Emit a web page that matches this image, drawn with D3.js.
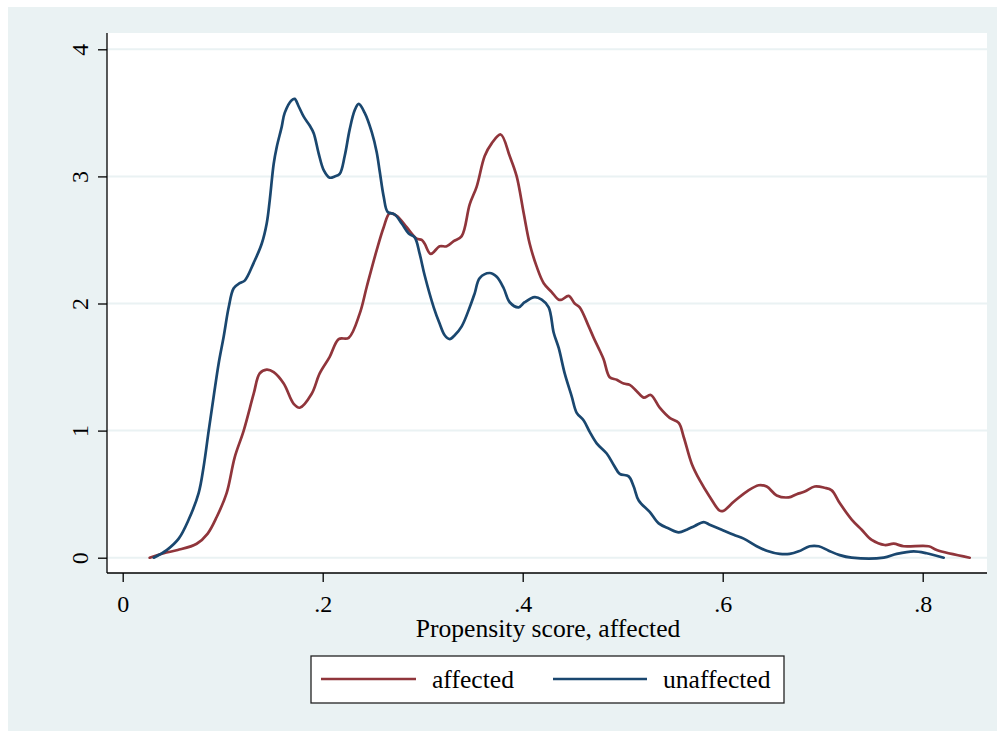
<!DOCTYPE html>
<html>
<head>
<meta charset="utf-8">
<script src="https://cdn.jsdelivr.net/npm/d3@7"></script>
<style>
  html, body { margin: 0; padding: 0; background: #ffffff; }
  svg { display: block; }
  text { font-family: "Liberation Serif", "Times New Roman", serif; fill: #000; }
</style>
</head>
<body>
<svg id="chart" width="997" height="731"></svg>
<script>
// Kernel density estimates of the propensity score, by group
const affectedX = [0.027,0.041,0.055,0.074,0.085,0.094,0.104,0.112,0.121,0.131,0.137,0.144,0.151,0.161,0.171,0.177,0.189,0.197,0.207,0.216,0.226,0.237,0.244,0.254,0.261,0.267,0.274,0.284,0.294,0.299,0.302,0.308,0.317,0.324,0.331,0.339,0.347,0.354,0.362,0.369,0.378,0.387,0.394,0.401,0.407,0.414,0.421,0.429,0.436,0.439,0.446,0.452,0.457,0.466,0.471,0.477,0.481,0.487,0.494,0.501,0.507,0.514,0.521,0.528,0.537,0.547,0.556,0.561,0.569,0.577,0.587,0.597,0.601,0.611,0.624,0.636,0.644,0.654,0.666,0.674,0.682,0.692,0.702,0.709,0.717,0.729,0.739,0.749,0.762,0.771,0.781,0.806,0.814,0.847];
const affectedY = [0.00,0.035,0.06,0.11,0.19,0.32,0.51,0.79,1.00,1.29,1.45,1.48,1.46,1.37,1.21,1.18,1.29,1.45,1.58,1.72,1.73,1.92,2.13,2.42,2.60,2.71,2.69,2.60,2.51,2.50,2.47,2.39,2.45,2.45,2.49,2.53,2.78,2.92,3.16,3.26,3.33,3.16,3.00,2.71,2.47,2.29,2.16,2.09,2.03,2.03,2.06,2.00,1.97,1.82,1.73,1.63,1.56,1.42,1.40,1.37,1.36,1.31,1.26,1.28,1.18,1.10,1.06,0.95,0.74,0.61,0.48,0.37,0.37,0.44,0.52,0.57,0.56,0.49,0.475,0.50,0.52,0.56,0.55,0.53,0.43,0.30,0.22,0.14,0.10,0.11,0.09,0.09,0.06,0.00];

const unaffectedX = [0.031,0.044,0.056,0.066,0.076,0.081,0.086,0.091,0.096,0.101,0.106,0.111,0.117,0.122,0.131,0.139,0.144,0.147,0.151,0.154,0.159,0.162,0.169,0.172,0.176,0.181,0.187,0.191,0.196,0.201,0.207,0.212,0.217,0.222,0.227,0.232,0.236,0.242,0.249,0.254,0.257,0.261,0.265,0.272,0.279,0.286,0.292,0.297,0.302,0.311,0.317,0.322,0.327,0.332,0.339,0.347,0.352,0.357,0.367,0.374,0.381,0.387,0.396,0.402,0.412,0.419,0.426,0.431,0.436,0.442,0.449,0.454,0.461,0.467,0.474,0.484,0.491,0.497,0.506,0.511,0.516,0.527,0.536,0.546,0.556,0.564,0.572,0.581,0.587,0.599,0.611,0.621,0.634,0.644,0.657,0.667,0.676,0.687,0.696,0.706,0.717,0.729,0.761,0.774,0.791,0.804,0.821];
const unaffectedY = [0.00,0.06,0.15,0.30,0.51,0.72,1.00,1.27,1.53,1.74,1.97,2.12,2.16,2.18,2.32,2.47,2.63,2.81,3.10,3.23,3.39,3.50,3.60,3.61,3.55,3.47,3.40,3.34,3.18,3.05,2.99,3.00,3.02,3.16,3.37,3.52,3.57,3.50,3.35,3.19,3.04,2.84,2.72,2.70,2.63,2.55,2.52,2.39,2.22,1.97,1.84,1.75,1.72,1.75,1.82,1.97,2.08,2.20,2.24,2.21,2.12,2.01,1.97,2.01,2.05,2.03,1.97,1.77,1.65,1.45,1.27,1.14,1.08,0.99,0.90,0.82,0.73,0.66,0.64,0.56,0.45,0.36,0.27,0.23,0.20,0.22,0.25,0.28,0.26,0.22,0.18,0.15,0.09,0.055,0.03,0.03,0.05,0.09,0.09,0.055,0.02,0.00,0.00,0.03,0.05,0.035,0.00];

const xTicks = [0, 0.2, 0.4, 0.6, 0.8];
const yTicks = [0, 1, 2, 3, 4];
const seriesNames = ["affected", "unaffected"];
const seriesColors = ["#90353b", "#1a476f"];
const xTitle = "Propensity score, affected";

const svg = d3.select("#chart");
const W = 997, H = 731;

// graph region background
svg.append("rect").attr("x", 8).attr("y", 7).attr("width", W - 8).attr("height", H - 7)
  .attr("fill", "#eaf2f3");

// plot region
const plot = { left: 107, right: 987, top: 33, bottom: 573 };
svg.append("rect")
  .attr("x", plot.left).attr("y", plot.top)
  .attr("width", plot.right - plot.left).attr("height", plot.bottom - plot.top)
  .attr("fill", "#ffffff");

const x = d3.scaleLinear().domain([0, 0.8]).range([122.7, 922.7]);
const y = d3.scaleLinear().domain([0, 4]).range([557.7, 49.3]);

// horizontal grid lines
svg.append("g").selectAll("line").data(yTicks).join("line")
  .attr("x1", plot.left).attr("x2", plot.right)
  .attr("y1", d => y(d)).attr("y2", d => y(d))
  .attr("stroke", "#eaf2f3").attr("stroke-width", 2);

// density curves
const line = d3.line().x(d => x(d[0])).y(d => y(d[1])).curve(d3.curveCatmullRom.alpha(0.5));
const series = [
  d3.zip(affectedX, affectedY),
  d3.zip(unaffectedX, unaffectedY)
];
svg.append("g").selectAll("path").data(series).join("path")
  .attr("d", line)
  .attr("fill", "none")
  .attr("stroke", (d, i) => seriesColors[i])
  .attr("stroke-width", 2.7)
  .attr("stroke-linejoin", "round")
  .attr("stroke-linecap", "round");

const fmtX = d => d === 0 ? "0" : d3.format(".1f")(d).replace(/^0/, "");

// x axis
const xAxis = svg.append("g").attr("transform", `translate(0,${plot.bottom})`)
  .call(d3.axisBottom(x).tickValues(xTicks).tickFormat(fmtX).tickSize(9).tickPadding(6).tickSizeOuter(0));
xAxis.select(".domain").attr("d", `M${plot.left},0H${plot.right}`).attr("stroke", "#000").attr("stroke-width", 1.3);
xAxis.selectAll(".tick line").attr("stroke", "#000").attr("stroke-width", 1.3);
xAxis.selectAll(".tick text")
  .attr("font-family", "Liberation Serif").attr("font-size", 24).attr("fill", "#000")
  .attr("dy", null).attr("y", 39);

// y axis
const yAxis = svg.append("g").attr("transform", `translate(${plot.left},0)`)
  .call(d3.axisLeft(y).tickValues(yTicks).tickFormat(d3.format("d")).tickSize(9).tickSizeOuter(0));
yAxis.select(".domain").attr("d", `M0,${plot.top}V${plot.bottom}`).attr("stroke", "#000").attr("stroke-width", 1.3);
yAxis.selectAll(".tick line").attr("stroke", "#000").attr("stroke-width", 1.3);
yAxis.selectAll(".tick text")
  .attr("font-family", "Liberation Serif").attr("font-size", 24).attr("fill", "#000")
  .attr("x", null).attr("dy", null).attr("text-anchor", "middle")
  .attr("transform", "translate(-19,0) rotate(-90)");

// axis title
svg.append("text")
  .attr("x", (plot.left + plot.right) / 2 + 1).attr("y", 637)
  .attr("text-anchor", "middle").attr("font-size", 25.6)
  .text(xTitle);

// legend
const legend = svg.append("g");
legend.append("rect")
  .attr("x", 311).attr("y", 656).attr("width", 473).attr("height", 47)
  .attr("fill", "#ffffff").attr("stroke", "#222").attr("stroke-width", 1.3);
const legendItems = [
  { x0: 321, x1: 416, tx: 432 },
  { x0: 553, x1: 647, tx: 663 }
];
legend.selectAll("line").data(seriesNames).join("line")
  .attr("x1", (d, i) => legendItems[i].x0).attr("x2", (d, i) => legendItems[i].x1)
  .attr("y1", 679).attr("y2", 679)
  .attr("stroke", (d, i) => seriesColors[i]).attr("stroke-width", 2.6);
legend.selectAll("text").data(seriesNames).join("text")
  .attr("x", (d, i) => legendItems[i].tx).attr("y", 688)
  .attr("font-size", 25.6)
  .text(d => d);
</script>
</body>
</html>
